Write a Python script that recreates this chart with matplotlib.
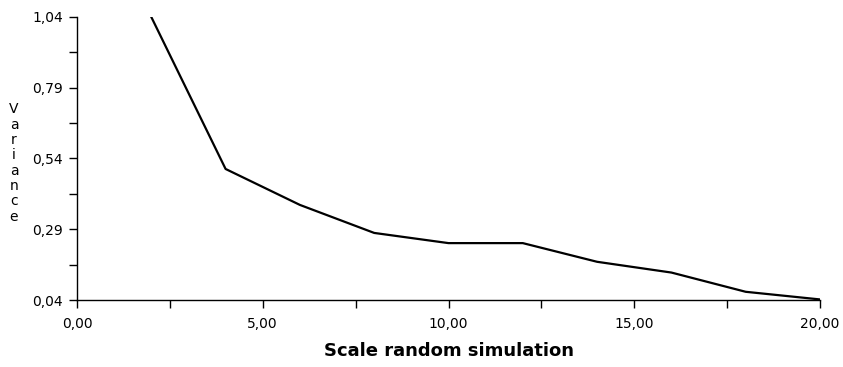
import matplotlib
matplotlib.use('Agg')
import matplotlib.pyplot as plt
import numpy as np

# values
scale = [2, 4, 6, 8, 10, 12, 14, 16, 18, 20]
variance = [1.04, 0.503, 0.376, 0.277, 0.241, 0.241, 0.175, 0.137, 0.069, 0.042]

xticks = [0, 5, 10, 15, 20]
xticklabels = ['0,00', '5,00', '10,00', '15,00', '20,00']
yticks = [0.04, 0.29, 0.54, 0.79, 1.04]
yticklabels = ['0,04', '0,29', '0,54', '0,79', '1,04']

plt.rcParams['font.family'] = ['DejaVu Sans']

fig = plt.figure(figsize=(8.43, 3.67), dpi=100)
ax = fig.add_axes([77 / 843, 1 - 300 / 367, (820 - 77) / 843, (300 - 17) / 367])

ax.plot(scale, variance, color='black', lw=1.6, clip_on=True)

ax.set_xlim(0, 20)
ax.set_ylim(0.04, 1.04)

ax.set_xticks(xticks)
ax.set_xticklabels(xticklabels)
ax.set_xticks([2.5, 7.5, 12.5, 17.5], minor=True)
ax.set_yticks(yticks)
ax.set_yticklabels(yticklabels)
ax.set_yticks([0.165, 0.415, 0.665, 0.915], minor=True)

for s in ['top', 'right']:
    ax.spines[s].set_visible(False)
for s in ['left', 'bottom']:
    ax.spines[s].set_linewidth(1.0)

ax.tick_params(which='both', direction='out', length=6, width=1, labelsize=10)
ax.tick_params(axis='x', pad=6)
ax.tick_params(axis='y', pad=4)

ax.set_xlabel('Scale random simulation', fontsize=13, fontweight='bold', labelpad=8)

# stacked vertical letters for the y label
fig.text(14 / 843, 1 - 163 / 367, '\n'.join('Variance'), fontsize=10,
         ha='center', va='center', linespacing=1.12)

fig.savefig('out.png', dpi=100)
